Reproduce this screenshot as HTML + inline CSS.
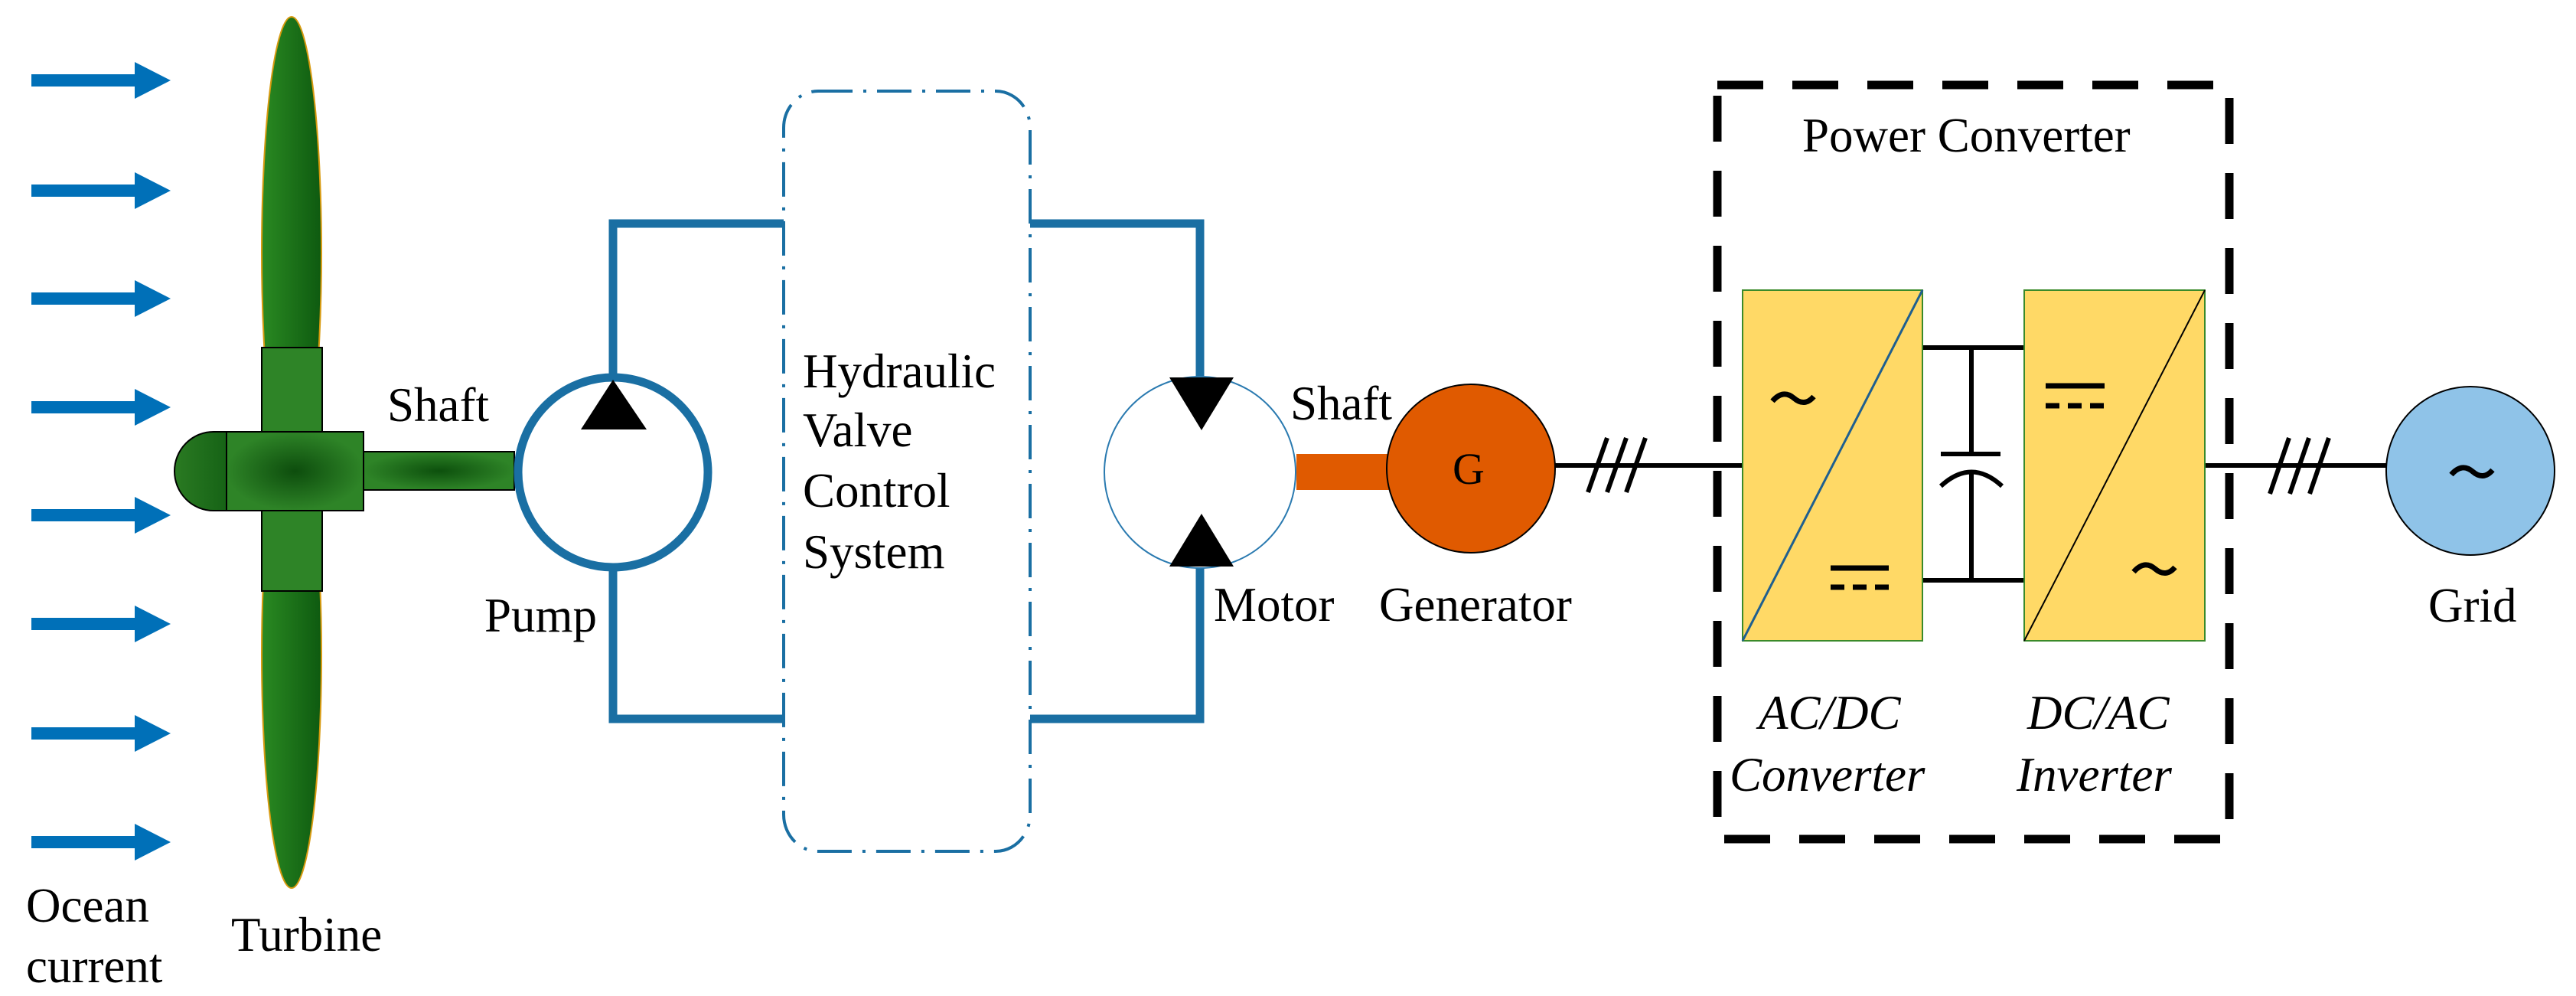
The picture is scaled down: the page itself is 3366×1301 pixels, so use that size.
<!DOCTYPE html>
<html><head><meta charset="utf-8"><style>
html,body{margin:0;padding:0;background:#fff}
svg{display:block}
</style></head><body>
<svg width="3366" height="1301" viewBox="0 0 3366 1301" xmlns="http://www.w3.org/2000/svg">
<defs>
<linearGradient id="blade" x1="0" x2="1" y1="0" y2="0">
<stop offset="0" stop-color="#2a8a22"/><stop offset="1" stop-color="#0e5a10"/></linearGradient>
<radialGradient id="hub" cx="0.5" cy="0.5" r="0.5">
<stop offset="0" stop-color="#0d4d0d"/><stop offset="1" stop-color="#2e8427"/></radialGradient>
<radialGradient id="shaft" cx="0.5" cy="0.5" r="0.5">
<stop offset="0" stop-color="#0d500d"/><stop offset="1" stop-color="#2e8427"/></radialGradient>
<linearGradient id="nose" x1="0" x2="1"><stop offset="0" stop-color="#2a7a22"/><stop offset="1" stop-color="#166316"/></linearGradient>
</defs>

<g fill="#0070b8">
<g id="ar"><rect x="41" y="97" width="136" height="16"/><polygon points="176,81 223,105 176,129"/></g>
<use href="#ar" y="144"/><use href="#ar" y="285"/><use href="#ar" y="427"/>
<use href="#ar" y="568"/><use href="#ar" y="710"/><use href="#ar" y="853"/><use href="#ar" y="995"/>
</g>

<ellipse cx="381" cy="330" rx="39" ry="308" fill="url(#blade)" stroke="#d79a10" stroke-width="2"/>
<ellipse cx="381" cy="855" rx="39" ry="305" fill="url(#blade)" stroke="#d79a10" stroke-width="2"/>
<path d="M296 564 L279 564 A51 51.5 0 0 0 279 667 L296 667 Z" fill="url(#nose)" stroke="#000" stroke-width="2"/>
<rect x="342" y="454" width="79" height="318" fill="#2e8427" stroke="#000" stroke-width="2"/>
<rect x="296" y="564" width="179" height="103" fill="url(#hub)" stroke="#000" stroke-width="2"/>
<rect x="475" y="590" width="197" height="50" fill="url(#shaft)" stroke="#000" stroke-width="2"/>

<path d="M801 490 V292 H1024 M801 746 V939 H1024" fill="none" stroke="#1a6fa3" stroke-width="11"/>
<circle cx="801" cy="617" r="124" fill="#fff" stroke="#1a6fa3" stroke-width="11"/>
<polygon points="801,496 845,561 759,561" fill="#000"/>

<rect x="1024" y="119" width="322" height="993" rx="45" ry="48" fill="none" stroke="#1a6fa3" stroke-width="4" stroke-dasharray="45,14,4,14"/>
<path d="M1346 292 H1568 V492 M1346 939 H1568 V742" fill="none" stroke="#1a6fa3" stroke-width="11"/>

<circle cx="1568" cy="617" r="125" fill="#fff" stroke="#2a7ab0" stroke-width="2"/>
<polygon points="1528,493 1612,493 1570,562" fill="#000"/>
<polygon points="1570,671 1612,740 1528,740" fill="#000"/>
<rect x="1694" y="593" width="122" height="47" fill="#e05a00"/>
<circle cx="1922" cy="612" r="110" fill="#e05a00" stroke="#000" stroke-width="2"/>

<g stroke="#000" stroke-width="6" fill="none">
<line x1="2032" y1="608" x2="2277" y2="608"/>
<line x1="2075" y1="643" x2="2100" y2="572"/>
<line x1="2100" y1="643" x2="2125" y2="572"/>
<line x1="2125" y1="643" x2="2150" y2="572"/>
<line x1="2881" y1="608" x2="3118" y2="608"/>
<line x1="2966" y1="645" x2="2991" y2="572"/>
<line x1="2992" y1="645" x2="3017" y2="572"/>
<line x1="3018" y1="645" x2="3043" y2="572"/>
<line x1="2512" y1="454" x2="2645" y2="454"/>
<line x1="2512" y1="758" x2="2645" y2="758"/>
<line x1="2576" y1="454" x2="2576" y2="593"/>
<line x1="2536" y1="593" x2="2614" y2="593"/>
<path d="M2536 635 Q2576 598 2616 635"/>
<line x1="2576" y1="616" x2="2576" y2="758"/>
</g>

<rect x="2244" y="111" width="669" height="985" fill="none" stroke="#000" stroke-width="11" stroke-dasharray="60,38"/>

<rect x="2277" y="379" width="235" height="458" fill="#ffd966" stroke="#3a8a2a" stroke-width="2"/>
<line x1="2277" y1="837" x2="2512" y2="379" stroke="#1f5f8f" stroke-width="3"/>
<rect x="2645" y="379" width="236" height="458" fill="#ffd966" stroke="#3a8a2a" stroke-width="2"/>
<line x1="2645" y1="837" x2="2881" y2="379" stroke="#000" stroke-width="2"/>

<g fill="none" stroke="#000" stroke-width="7">
<path d="M2316 524 Q2330 508 2344 520 Q2358 532 2370 518"/>
<path d="M2788 747 Q2802 731 2816 743 Q2830 755 2842 741"/>
<line x1="2392" y1="742" x2="2468" y2="742"/>
<line x1="2392" y1="767" x2="2468" y2="767" stroke-dasharray="18,11"/>
<line x1="2673" y1="504" x2="2750" y2="504"/>
<line x1="2673" y1="530" x2="2750" y2="530" stroke-dasharray="18,11"/>
</g>

<circle cx="3228" cy="615" r="110" fill="#8fc3e8" stroke="#000" stroke-width="2"/>
<path d="M3203 620 Q3217 604 3231 616 Q3245 628 3257 614" fill="none" stroke="#000" stroke-width="7"/>

<g font-family="'Liberation Serif', 'DejaVu Serif', serif" font-size="63" fill="#000">
<text x="1919" y="632" font-size="58" text-anchor="middle">G</text>
<text x="2355" y="198">Power Converter</text>
<text x="506" y="550">Shaft</text>
<text x="633" y="825">Pump</text>
<text x="34" y="1204">Ocean</text>
<text x="34" y="1283">current</text>
<text x="302" y="1242">Turbine</text>
<text x="1049" y="506">Hydraulic</text>
<text x="1049" y="583">Valve</text>
<text x="1049" y="662">Control</text>
<text x="1049" y="742">System</text>
<text x="1686" y="548">Shaft</text>
<text x="1586" y="811">Motor</text>
<text x="1802" y="811">Generator</text>
<text x="3173" y="812">Grid</text>
<g font-style="italic">
<text x="2298" y="952">AC/DC</text>
<text x="2260" y="1033">Converter</text>
<text x="2649" y="952">DC/AC</text>
<text x="2635" y="1033">Inverter</text>
</g>
</g>
</svg>
</body></html>
